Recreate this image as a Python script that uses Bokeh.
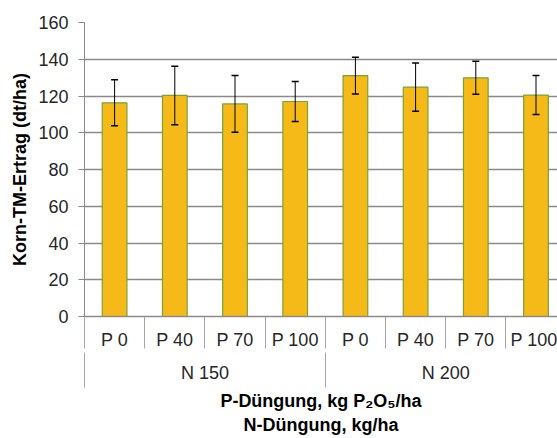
from bokeh.plotting import figure
from bokeh.models import (ColumnDataSource, Range1d, FixedTicker, LinearAxis,
                          Whisker, TeeHead, CustomJSTickFormatter)
from bokeh.embed import file_html
from bokeh.resources import INLINE

# ---- data ----
p_levels = ["P 0", "P 40", "P 70", "P 100", "P 0", "P 40", "P 70", "P 100"]
n_groups = ["N 150", "N 200"]
yield_mean = [116.3, 120.3, 115.7, 117.0, 131.1, 124.8, 129.9, 120.5]
yield_sd = [12.5, 15.9, 15.4, 10.9, 10.0, 13.1, 9.0, 10.6]
y_ticks = [0, 20, 40, 60, 80, 100, 120, 140, 160]

n_per_group = len(p_levels) // len(n_groups)
xs = [i + 0.5 for i in range(len(p_levels))]
group_centers = [sum(xs[g * n_per_group:(g + 1) * n_per_group]) / n_per_group
                 for g in range(len(n_groups))]
group_bounds = [g * n_per_group for g in range(len(n_groups) + 1)]

src = ColumnDataSource(dict(
    x=xs, top=yield_mean,
    upper=[m + s for m, s in zip(yield_mean, yield_sd)],
    lower=[m - s for m, s in zip(yield_mean, yield_sd)],
))

FONT = "Liberation Sans"
GRID = "#8a8a8a"
SEP = "#a6a6a6"
FS = "18px"

p = figure(width=557, height=438, output_backend="svg", toolbar_location=None,
           x_range=Range1d(0, 7.857), y_range=Range1d(0, 160),
           min_border_left=84, min_border_right=0, min_border_top=22,
           min_border_bottom=122)
p.outline_line_color = None
p.background_fill_color = "white"
p.border_fill_color = "white"

# bars
p.vbar(x="x", top="top", bottom=0, width=0.41, source=src,
       fill_color="#F5B918", line_color="#77A33A", line_width=1.2)

# error bars
p.add_layout(Whisker(base="x", upper="upper", lower="lower", source=src,
                     level="overlay",
                     line_color="black", line_width=1,
                     upper_head=TeeHead(size=7, line_color="black", line_width=1.5),
                     lower_head=TeeHead(size=7, line_color="black", line_width=1.5)))

# y axis
yax = p.yaxis[0]
yax.ticker = FixedTicker(ticks=y_ticks, minor_ticks=[])
yax.major_tick_out = 6
yax.major_tick_in = 0
yax.axis_line_color = GRID
yax.major_tick_line_color = GRID
yax.major_label_text_font = FONT
yax.major_label_text_font_size = FS
yax.major_label_text_color = "#262626"
yax.major_label_standoff = 10
yax.axis_label = "Korn-TM-Ertrag (dt/ha)"
yax.axis_label_text_font = FONT
yax.axis_label_text_font_size = FS
yax.axis_label_text_font_style = "bold"
yax.axis_label_text_color = "black"
yax.axis_label_standoff = 5

# grid
p.ygrid.grid_line_color = GRID
p.ygrid.grid_line_width = 1.3
p.xgrid.visible = False

# x axis level 1 (P)
ax1 = p.xaxis[0]
ax1.ticker = FixedTicker(ticks=xs, minor_ticks=list(range(len(p_levels) + 1)))
ax1.formatter = CustomJSTickFormatter(args=dict(labels=p_levels),
                                      code="return labels[Math.floor(tick)] || '';")
ax1.major_tick_out = 0
ax1.major_tick_in = 0
ax1.minor_tick_in = 0
ax1.minor_tick_out = 32
ax1.minor_tick_line_color = SEP
ax1.axis_line_color = GRID
ax1.axis_line_width = 1.3
ax1.major_label_text_font = FONT
ax1.major_label_text_font_size = FS
ax1.major_label_text_color = "#262626"
ax1.major_label_standoff = -19

# x axis level 2 (N)
ax2 = LinearAxis(
    ticker=FixedTicker(ticks=group_centers, minor_ticks=group_bounds),
    formatter=CustomJSTickFormatter(args=dict(labels=n_groups, n=n_per_group),
                                    code="return labels[Math.floor(tick / n)] || '';"))
ax2.axis_line_color = None
ax2.major_tick_out = 0
ax2.major_tick_in = 0
ax2.minor_tick_in = 0
ax2.minor_tick_out = 35
ax2.minor_tick_line_color = SEP
ax2.major_label_text_font = FONT
ax2.major_label_text_font_size = FS
ax2.major_label_text_color = "#262626"
ax2.major_label_standoff = -25
ax2.axis_label = "P-Düngung, kg P₂O₅/ha\nN-Düngung, kg/ha"
ax2.axis_label_text_font = FONT
ax2.axis_label_text_font_size = FS
ax2.axis_label_text_font_style = "bold"
ax2.axis_label_text_color = "black"
ax2.axis_label_text_line_height = 1.2
ax2.axis_label_standoff = 5
p.add_layout(ax2, "below")

open("out.html", "w").write(file_html(p, INLINE))
